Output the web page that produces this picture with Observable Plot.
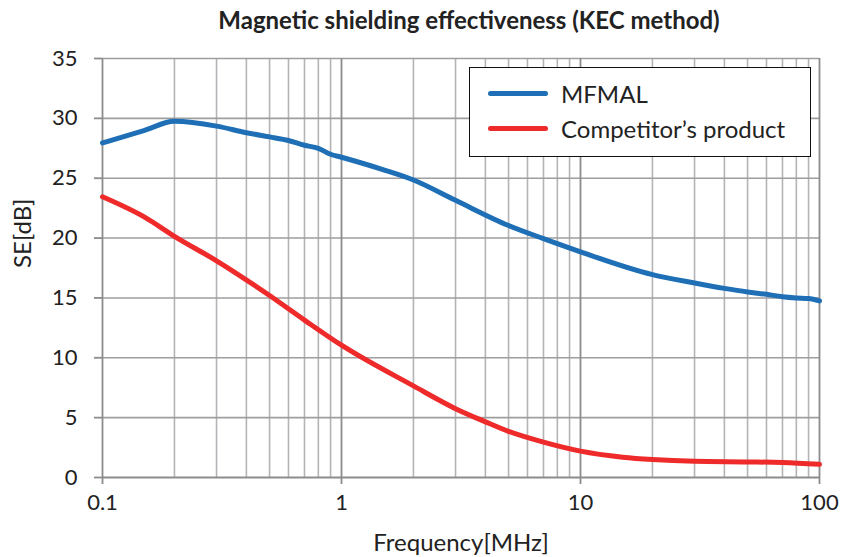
<!DOCTYPE html>
<html>
<head>
<meta charset="utf-8">
<script src="https://cdn.jsdelivr.net/npm/d3@7"></script>
<script src="https://cdn.jsdelivr.net/npm/@observablehq/plot@0.6"></script>
<style>
  html, body { margin: 0; padding: 0; background: #fff; }
  #wrap { position: relative; width: 842px; height: 557px; font-family: Lato, "Noto Sans", sans-serif; color: #222; }
  #legend { position: absolute; left: 469px; top: 67px; width: 340px; height: 88px; border: 1.5px solid #111; background: #fff; box-sizing: content-box; }
  .li { position: absolute; left: 18px; display: flex; align-items: center; font-size: 24px; }
  .sw { width: 60px; height: 5px; border-radius: 3px; margin-right: 13px; }
</style>
</head>
<body>
<div id="wrap"></div>
<script>
const titleText = "Magnetic shielding effectiveness (KEC method)";
const xLabel = "Frequency[MHz]";
const yLabel = "SE[dB]";
const seriesNames = ["MFMAL", "Competitor\u2019s product"];
const seriesColors = ["#1f6fb6", "#ee2a2a"];

const mfmalFreq = [0.1, 0.15, 0.2, 0.3, 0.4, 0.5, 0.6, 0.7, 0.8, 0.9, 1, 1.5, 2, 3, 5, 7, 10, 20, 30, 40, 50, 60, 70, 80, 90, 100];
const mfmalSE   = [27.95, 29.0, 29.75, 29.35, 28.8, 28.45, 28.15, 27.75, 27.5, 27.0, 26.75, 25.7, 24.85, 23.15, 21.05, 19.95, 18.85, 16.95, 16.25, 15.8, 15.5, 15.3, 15.1, 15.0, 14.95, 14.75];

const compFreq = [0.1, 0.15, 0.2, 0.3, 0.5, 0.7, 1, 2, 3, 4, 5, 7, 10, 15, 20, 30, 50, 70, 100];
const compSE   = [23.45, 21.75, 20.15, 18.1, 15.2, 13.15, 11.05, 7.65, 5.75, 4.65, 3.85, 2.95, 2.2, 1.7, 1.5, 1.35, 1.3, 1.25, 1.1];

const xMajorTicks = [0.1, 1, 10, 100];
const xMinorTicks = [0.2,0.3,0.4,0.5,0.6,0.7,0.8,0.9, 2,3,4,5,6,7,8,9, 20,30,40,50,60,70,80,90];
const yTicks = [0, 5, 10, 15, 20, 25, 30, 35];

const data = [
  ...mfmalFreq.map((f, i) => ({series: seriesNames[0], f, se: mfmalSE[i]})),
  ...compFreq.map((f, i) => ({series: seriesNames[1], f, se: compSE[i]}))
];

const chart = Plot.plot({
  width: 842,
  height: 557,
  marginLeft: 102,
  marginRight: 23,
  marginTop: 58,
  marginBottom: 80,
  style: { fontFamily: "Lato, 'Noto Sans', sans-serif", fontSize: "22px", color: "#222", background: "#fff" },
  x: { type: "log", domain: [0.1, 100] },
  y: { domain: [0, 35] },
  color: { domain: seriesNames, range: seriesColors },
  marks: [
    Plot.ruleX(xMinorTicks, { stroke: "#b4b4b8", strokeWidth: 1.6 }),
    Plot.ruleY(yTicks.filter(d => d > 0), { stroke: "#9e9e9e", strokeWidth: 1.6 }),
    Plot.ruleX(xMajorTicks, { stroke: "#8c8c8c", strokeWidth: 1.8 }),
    Plot.ruleY([0], { stroke: "#8c8c8c", strokeWidth: 1.8 }),
    Plot.axisY({ ticks: yTicks, tickSize: 8, tickPadding: 17, stroke: "#8c8c8c", strokeWidth: 1.8, fontSize: 22, label: null }),
    Plot.axisX({ ticks: xMajorTicks, tickFormat: d => String(d), tickSize: 7, tickPadding: 10, stroke: "#8c8c8c", strokeWidth: 1.8, fontSize: 22, label: null }),
    Plot.line(data, { x: "f", y: "se", stroke: "series", strokeWidth: 5, curve: "monotone-x", strokeLinecap: "round" }),
    Plot.text([titleText], { frameAnchor: "top", lineAnchor: "middle", dy: -37, dx: 8, fontSize: 24, fontWeight: "bold", fill: "#222" }),
    Plot.text([xLabel], { frameAnchor: "bottom", lineAnchor: "middle", dy: 66, fontSize: 24, fill: "#222" }),
    Plot.text([yLabel], { frameAnchor: "left", dx: -79, rotate: -90, fontSize: 24, fill: "#222" })
  ]
});

const wrap = document.getElementById("wrap");
wrap.appendChild(chart);

const legend = document.createElement("div");
legend.id = "legend";
seriesNames.forEach((name, i) => {
  const item = document.createElement("div");
  item.className = "li";
  item.style.top = (i === 0 ? 11 : 46) + "px";
  const sw = document.createElement("div");
  sw.className = "sw";
  sw.style.background = seriesColors[i];
  const t = document.createElement("span");
  t.textContent = name;
  item.appendChild(sw);
  item.appendChild(t);
  legend.appendChild(item);
});
wrap.appendChild(legend);
</script>
</body>
</html>
